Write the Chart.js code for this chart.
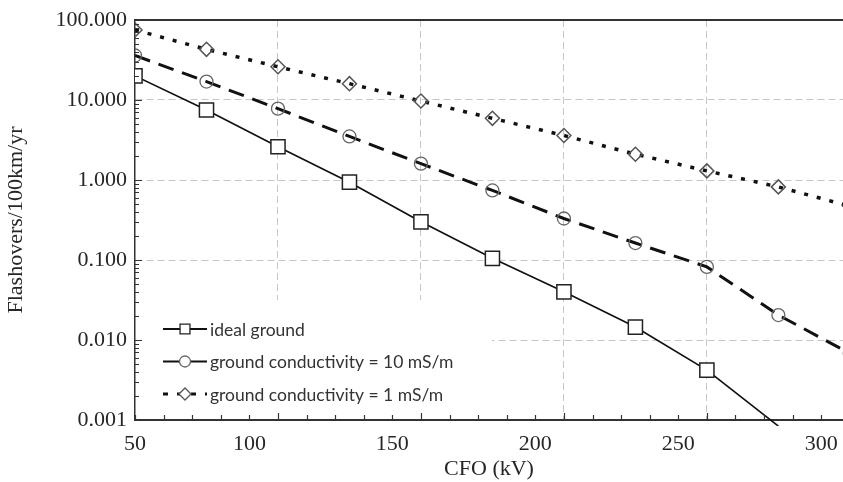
<!DOCTYPE html>
<html>
<head>
<meta charset="utf-8">
<script src="https://cdn.jsdelivr.net/npm/chart.js@4.4.1/dist/chart.umd.min.js"></script>
<style>
  html, body { margin: 0; padding: 0; background: #fff; }
  #wrap { width: 843px; height: 482px; position: relative; }
</style>
</head>
<body>
<div id="wrap"><canvas id="c" width="843" height="482"></canvas></div>
<script>
/* Flashovers vs CFO - tres curvas, eje Y logaritmico */
const cfo = [50, 75, 100, 125, 150, 175, 200, 225, 250, 275, 300];
const idealGround = [20, 7.5, 2.6, 0.94, 0.30, 0.105, 0.040, 0.0145, 0.0042, 0.00084, null];
const cond10 = [36, 17, 7.8, 3.5, 1.6, 0.74, 0.33, 0.163, 0.082, 0.0205, 0.0068];
const cond1 = [75, 43, 26, 16, 9.7, 5.9, 3.6, 2.1, 1.3, 0.82, 0.47];

const seriesNames = ['ideal ground', 'ground conductivity = 10 mS/m', 'ground conductivity = 1 mS/m'];

const yTickVals = [0.001, 0.01, 0.1, 1, 10, 100];
const yTickLabels = ['0.001', '0.010', '0.100', '1.000', '10.000', '100.000'];
// las etiquetas del original caen un tick menor antes de su valor
const xTickLabels = ['50', '100', '150', '200', '250', '300'];
const xLabelAt = [50, 90, 140, 190, 240, 290];

const X_MIN = 50, X_MAX = 297.6;
const xMinor = [];
for (let v = 50; v <= 290; v += 10) xMinor.push(v);

const SERIF = "'Liberation Serif', 'Times New Roman', serif";
const TXT = '#262626';
const GRID = '#c6c6c6';

const pts = arr => cfo.map((x, i) => ({ x, y: arr[i] }));
const isMajorX = v => v % 50 === 0 && v > 50;

const legendRows = [
  { style: 'rect', r: 7, dash: [], w: 2, stroke: '#222' },
  { style: 'circle', r: 5.5, dash: [], w: 2, stroke: '#666' },
  { style: 'rectRot', r: 6, dash: [5, 9], w: 3, stroke: '#555' },
];

const framePlugin = {
  id: 'frame',
  beforeDatasetsDraw(chart) {
    const { ctx } = chart;
    ctx.save();
    ctx.fillStyle = '#fff';
    ctx.fillRect(136.5, 300, 492 - 136.5, 419 - 300);
    ctx.font = "17.5px Lato, 'Open Sans', sans-serif";
    ctx.textBaseline = 'middle';
    legendRows.forEach((row, i) => {
      const y = 329 + i * 32.5;
      ctx.strokeStyle = '#111';
      ctx.lineWidth = row.w;
      ctx.setLineDash(row.dash);
      ctx.beginPath();
      ctx.moveTo(163, y);
      ctx.lineTo(207, y);
      ctx.stroke();
      ctx.setLineDash([]);
      ctx.fillStyle = '#fff';
      ctx.strokeStyle = row.stroke;
      ctx.lineWidth = 1.3;
      Chart.helpers.drawPoint(ctx, { pointStyle: row.style, radius: row.r, rotation: 0, borderWidth: 1.3 }, 185, y);
      ctx.fillStyle = '#333';
      ctx.fillText(seriesNames[i], 210, y + 1);
    });
    ctx.restore();
  },
  afterDraw(chart) {
    const { ctx, chartArea: a, scales } = chart;
    ctx.save();
    ctx.strokeStyle = '#333';
    ctx.lineWidth = 2;
    ctx.beginPath();
    ctx.moveTo(a.left, a.top);
    ctx.lineTo(a.right, a.top);
    ctx.stroke();
    // ticks hacia adentro
    ctx.lineWidth = 1.2;
    ctx.beginPath();
    xMinor.forEach(v => {
      const px = Math.round(scales.x.getPixelForValue(v)) + 0.5;
      const len = isMajorX(v) ? 7 : 5;
      ctx.moveTo(px, a.bottom);
      ctx.lineTo(px, a.bottom - len);
    });
    for (let d = 0.001; d < 100; d *= 10) {
      for (let k = 1; k <= 9; k++) {
        const py = Math.round(scales.y.getPixelForValue(d * k)) + 0.5;
        const len = k === 1 ? 7 : 4;
        ctx.moveTo(a.left, py);
        ctx.lineTo(a.left + len, py);
      }
    }
    ctx.stroke();
    ctx.restore();
  },
};

new Chart(document.getElementById('c'), {
  type: 'line',
  data: {
    datasets: [
      {
        label: seriesNames[0], data: pts(idealGround),
        borderColor: '#111', borderWidth: 1.7, tension: 0,
        pointStyle: 'rect',
        pointRadius: c => (c.raw && c.raw.y < 0.001 ? 0 : 10),
        pointBackgroundColor: '#fff', pointBorderColor: '#222', pointBorderWidth: 1.5,
        clip: { left: 0, top: 0, right: 0, bottom: 6 },
      },
      {
        label: seriesNames[1], data: pts(cond10),
        borderColor: '#111', borderWidth: 3, borderDash: [16, 9], tension: 0,
        pointStyle: 'circle', pointRadius: 6.5,
        pointBackgroundColor: 'rgba(0,0,0,0)', pointBorderColor: '#666', pointBorderWidth: 1.3,
      },
      {
        label: seriesNames[2], data: pts(cond1),
        borderColor: '#111', borderWidth: 3.5, borderDash: [4, 9], tension: 0,
        pointStyle: 'rectRot', pointRadius: 7,
        pointBackgroundColor: 'rgba(0,0,0,0)', pointBorderColor: '#555', pointBorderWidth: 1.5,
      },
    ],
  },
  options: {
    responsive: false, animation: false, devicePixelRatio: 1,
    layout: { autoPadding: false, padding: { top: 20, left: 0, right: 0, bottom: 0 } },
    plugins: { legend: { display: false }, tooltip: { enabled: false } },
    scales: {
      x: {
        type: 'linear', min: X_MIN, max: X_MAX,
        afterBuildTicks: s => { s.ticks = xMinor.map(v => ({ value: v })); },
        afterFit: s => { s.height = 62; s.paddingLeft = 0; s.paddingRight = 0; },
        grid: { drawTicks: false, lineWidth: 1, color: c => (c.tick && isMajorX(c.tick.value) ? GRID : 'rgba(0,0,0,0)') },
        border: { color: '#333', width: 2, dash: [7, 4] },
        ticks: {
          autoSkip: false, maxRotation: 0, padding: 11, color: TXT,
          font: { family: SERIF, size: 22 },
          callback: v => { const i = xLabelAt.indexOf(v); return i >= 0 ? xTickLabels[i] : ''; },
        },
        title: { display: true, text: 'CFO (kV)', color: TXT, font: { family: SERIF, size: 22 }, padding: { top: 0, bottom: 0 } },
      },
      y: {
        type: 'logarithmic', min: 0.001, max: 100,
        afterBuildTicks: s => { s.ticks = yTickVals.map(v => ({ value: v })); },
        afterFit: s => { s.width = 135; s.paddingTop = 0; s.paddingBottom = 0; },
        grid: { drawTicks: false, lineWidth: 1, color: c => (c.index > 0 && c.index < yTickVals.length - 1 ? GRID : 'rgba(0,0,0,0)') },
        border: { color: '#333', width: 1.5, dash: [7, 4] },
        ticks: {
          padding: 8, color: TXT, autoSkip: false,
          font: { family: SERIF, size: 22 },
          callback: (v, i) => yTickLabels[i],
        },
        title: { display: true, text: 'Flashovers/100km/yr', color: TXT, font: { family: SERIF, size: 22 }, padding: { top: 3, bottom: 0 } },
      },
    },
  },
  plugins: [framePlugin],
});
</script>
</body>
</html>
